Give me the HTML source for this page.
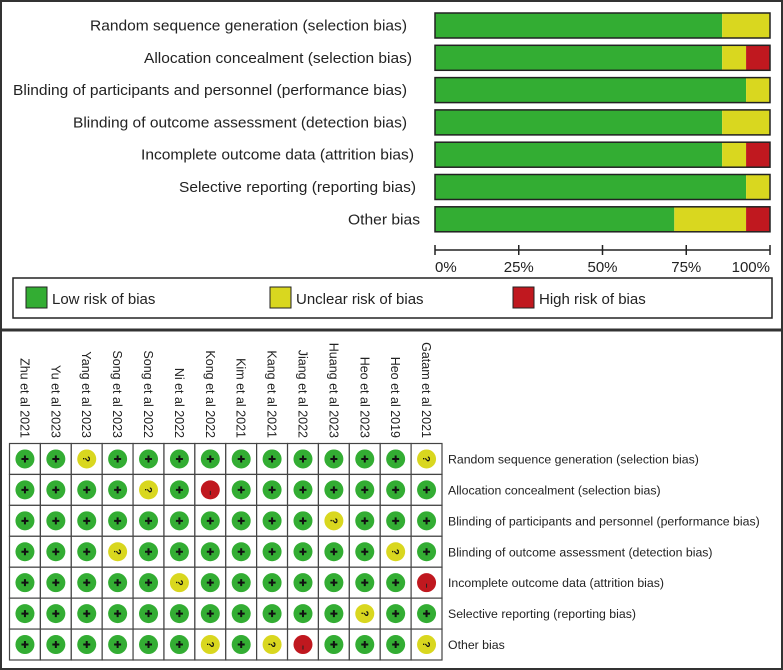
<!DOCTYPE html>
<html><head><meta charset="utf-8"><style>
html,body{margin:0;padding:0;background:#fff}
svg{display:block;font-family:"Liberation Sans",sans-serif}
</style></head><body>
<svg id="chart" width="783" height="670" viewBox="0 0 783 670">
<rect x="1" y="1" width="781" height="668" fill="none" stroke="#333" stroke-width="2"/>
<line x1="0" y1="330" x2="783" y2="330" stroke="#333" stroke-width="3"/>
<g id="topg"></g>
<g id="bottomg"></g>
</svg>
<script>
const domains = ["Random sequence generation (selection bias)","Allocation concealment (selection bias)","Blinding of participants and personnel (performance bias)","Blinding of outcome assessment (detection bias)","Incomplete outcome data (attrition bias)","Selective reporting (reporting bias)","Other bias"];
const lowCounts = [12,12,13,12,12,13,10];
const unclearCounts = [2,1,1,2,1,1,3];
const highCounts = [0,1,0,0,1,0,1];
const tickLabels = ["0%","25%","50%","75%","100%"];
const tickValues = [0,25,50,75,100];
const studies = ["Zhu et al 2021","Yu et al 2023","Yang et al 2023","Song et al 2023","Song et al 2022","Ni et al 2022","Kong et al 2022","Kim et al 2021","Kang et al 2021","Jiang et al 2022","Huang et al 2023","Heo et al 2023","Heo et al 2019","Gatam et al 2021"];
const judgements = [
"++?++++++++++?",
"++++?+-+++++++",
"++++++++++?+++",
"+++?++++++++?+",
"+++++?+++++++-",
"+++++++++++?++",
"++++++?+?-+++?"
];
const labelStart=[90,144,13,73,141,179,348];
const labelEnd=[407,412,407,407,414,416,420];
const NS="http://www.w3.org/2000/svg";
function mk(tag,attrs,parent){const e=document.createElementNS(NS,tag);for(const k in attrs)e.setAttribute(k,attrs[k]);parent.appendChild(e);return e;}
const G="#33ad33",Y="#d9d71f",R="#c0181f";
const topG=document.getElementById('topg'), botG=document.getElementById('bottomg');
const x0=435,x1=770;
const xs=v=>x0+(x1-x0)*v/100;
const rowY=i=>13+i*32.3;
domains.forEach((d,i)=>{
 const tot=lowCounts[i]+unclearCounts[i]+highCounts[i];
 const y=rowY(i);
 const t=mk('text',{x:labelStart[i],y:y+17.5,'font-size':15,fill:'#222',textLength:labelEnd[i]-labelStart[i],lengthAdjust:'spacingAndGlyphs'},topG);
 
 
 t.textContent=d;
 let acc=0;
 [[lowCounts[i],G,'low'],[unclearCounts[i],Y,'unclear'],[highCounts[i],R,'high']].forEach(([c,col,n])=>{
  if(!c)return;
  const p=c/tot*100;
  const r=mk('rect',{x:xs(acc),y:y,width:xs(acc+p)-xs(acc),height:25,fill:col},topG);
  
  
  acc+=p;
 });
 const o=mk('rect',{x:x0,y:y,width:x1-x0,height:25,fill:'none',stroke:'#222','stroke-width':1.5},topG);
 
 
});
const ax=mk('line',{x1:x0,y1:250,x2:x1,y2:250,stroke:'#222','stroke-width':1.5},topG);


tickValues.forEach((v,i)=>{
 const l=mk('line',{x1:xs(v),y1:245,x2:xs(v),y2:255,stroke:'#222','stroke-width':1.5},topG);
 
 
 const t=mk('text',{x:i==0?x0:(i==4?x1:xs(v)),y:272,'font-size':15,fill:'#222','text-anchor':i==0?'start':(i==4?'end':'middle')},topG);
 
 
 t.textContent=tickLabels[i];
});
const lg=mk('rect',{x:13,y:278,width:759,height:40,fill:'none',stroke:'#222','stroke-width':1.5},topG);


[[26,G,'Low risk of bias','legend-low'],[270,Y,'Unclear risk of bias','legend-unclear'],[513,R,'High risk of bias','legend-high']].forEach(([x,c,txt,n])=>{
 const s=mk('rect',{x:x,y:287,width:21,height:21,fill:c,stroke:'#222','stroke-width':1},topG);
 
 
 const t=mk('text',{x:x+26,y:304,'font-size':15,fill:'#222'},topG);
 
 
 t.textContent=txt;
});
const gx0=9.5,gx1=442,gy0=443.5,gy1=660;
const cw=(gx1-gx0)/studies.length, rh=(gy1-gy0)/domains.length;
studies.forEach((s,j)=>{
 const cx=gx0+cw*(j+0.5);
 const t=mk('text',{x:0,y:0,'font-size':12.5,fill:'#222','text-anchor':'end',transform:`translate(${cx-4.5},438) rotate(90)`},botG);
 
 
 t.textContent=s;
});
domains.forEach((d,i)=>{
 const cy=gy0+rh*(i+0.5);
 const t=mk('text',{x:448,y:cy+4.5,'font-size':12.3,fill:'#222'},botG);
 
 
 t.textContent=d;
 studies.forEach((s,j)=>{
  const cx=gx0+cw*(j+0.5);
  const cell=mk('rect',{x:gx0+cw*j,y:gy0+rh*i,width:cw,height:rh,fill:'#fff',stroke:'#444','stroke-width':1.2},botG);
  
  
  const v=judgements[i][j];
  const col=v=='+'?G:(v=='?'?Y:R);
  const c=mk('circle',{cx:cx,cy:cy,r:9.5,fill:col},botG);
  
  
  if(v=='+'){
   const p=mk('path',{d:`M${cx-3.5} ${cy}H${cx+3.5}M${cx} ${cy-3.5}V${cy+3.5}`,stroke:'#111','stroke-width':2},botG);
   
   
  } else if(v=='?'){
   const q=mk('text',{x:0,y:0,'font-size':10,'font-weight':'bold',fill:'#111','text-anchor':'middle',transform:`translate(${cx},${cy}) rotate(90) translate(0,3.5)`},botG);
   
   
   q.textContent='?';
  } else {
   const m=mk('line',{x1:cx,y1:cy+1,x2:cx,y2:cy+5,stroke:'#222','stroke-width':1},botG);
   
   
  }
 });
});
</script>
</body></html>
